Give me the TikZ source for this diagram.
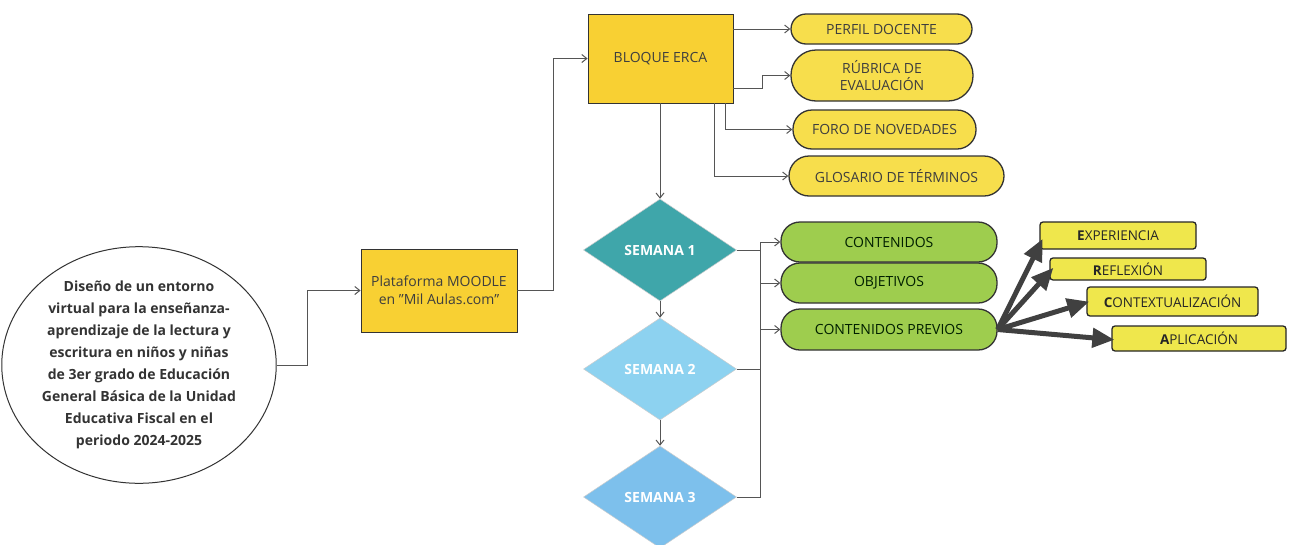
\documentclass[tikz,border=0pt]{standalone}
\usepackage{fontspec}
\setmainfont{Open Sans}
\usetikzlibrary{shapes.geometric,arrows.meta,calc}
\definecolor{gold}{HTML}{F8D033}
\definecolor{pillY}{HTML}{F7DE4C}
\definecolor{pillG}{HTML}{9ECD4E}
\definecolor{boxY}{HTML}{EFE74C}
\definecolor{teal}{HTML}{3FA6AA}
\definecolor{sky}{HTML}{8DD2F0}
\definecolor{sky2}{HTML}{7DC0EC}
\definecolor{lne}{HTML}{555555}
\definecolor{txt}{HTML}{3E3E3E}
\tikzset{
  arr/.style={draw=lne, line width=1pt, -{Straight Barb[length=5pt,width=8pt]}},
  ln/.style={draw=lne, line width=1pt},
  fat/.style={draw=black!75, line width=5pt, -{Triangle[length=22pt,width=19pt]}, shorten >=-3pt},
  sqbox/.style={draw=black!80, line width=0.9pt, fill=gold, text=txt, font=\fontsize{14}{18}\selectfont, align=center},
  pillyellow/.style={draw=black!80, line width=1.3pt, fill=pillY, text=txt, font=\fontsize{14}{17}\selectfont, align=center, inner sep=0pt},
  pillgreen/.style={draw=black!80, line width=1.3pt, fill=pillG, text=black!70!green!40!black, font=\fontsize{14}{17}\selectfont, align=center, inner sep=0pt, minimum width=216pt, rounded corners=19pt},
  sbox/.style={draw=black!85, line width=1.3pt, fill=boxY, text=black!85, font=\fontsize{13.5}{15}\selectfont, rounded corners=3pt, inner sep=0pt},
  semana/.style={diamond, draw=black!20, line width=0.5pt, text=white, font=\bfseries\fontsize{14}{16}\selectfont, minimum width=153pt, minimum height=102pt, inner sep=0pt, aspect=1.5},
  bigcirc/.style={ellipse, draw=black!80, line width=1pt, fill=white, minimum width=228pt, minimum height=236pt, inner sep=0pt, align=center, font=\bfseries\fontsize{14}{21.9}\selectfont, text=black!80}
}
\begin{document}
\begin{tikzpicture}[x=1pt,y=-1pt]
\useasboundingbox[fill=white] (0,0) rectangle (1297,544);
% main nodes
\node[bigcirc] (c) at (139,365) {Diseño de un entorno\\virtual para la enseñanza-\\aprendizaje de la lectura y\\escritura en niños y niñas\\de 3er grado de Educación\\General Básica de la Unidad\\Educativa Fiscal en el\\periodo 2024-2025};
\node[sqbox, minimum width=156pt, minimum height=83pt] (plat) at (439,290.5) {Plataforma MOODLE\\en "Mil Aulas.com"};
\node[sqbox, minimum width=145pt, minimum height=89pt] (erca) at (660.5,58.5) {BLOQUE ERCA};
% yellow pills
\node[pillyellow, minimum width=181pt, minimum height=30pt, rounded corners=15pt] (perf) at (881.5,29) {PERFIL DOCENTE};
\node[pillyellow, minimum width=182pt, minimum height=51pt, rounded corners=25pt] (rub) at (882,75.5) {RÚBRICA DE\\EVALUACIÓN};
\node[pillyellow, minimum width=183pt, minimum height=39pt, rounded corners=19pt] (foro) at (884.5,129.5) {FORO DE NOVEDADES};
\node[pillyellow, minimum width=215pt, minimum height=40pt, rounded corners=20pt] (glos) at (896.5,176) {GLOSARIO DE TÉRMINOS};
% diamonds
\node[semana, fill=teal] (s1) at (660,250) {SEMANA 1};
\node[semana, fill=sky] (s2) at (660,369) {SEMANA 2};
\node[semana, fill=sky2] (s3) at (660,497) {SEMANA 3};
% green pills
\node[pillgreen, minimum height=40pt] (cont) at (889,242) {CONTENIDOS};
\node[pillgreen, minimum height=40pt] (obj) at (889,283) {OBJETIVOS};
\node[pillgreen, minimum height=41pt] (prev) at (889,329.5) {CONTENIDOS PREVIOS};
% right boxes
\node[sbox, minimum width=156pt, minimum height=27pt] (exp) at (1118,235.5) {\textbf{E}XPERIENCIA};
\node[sbox, minimum width=156pt, minimum height=22pt] (ref) at (1128,269) {\textbf{R}EFLEXIÓN};
\node[sbox, minimum width=171pt, minimum height=29pt] (ctx) at (1172.5,301.5) {\textbf{C}ONTEXTUALIZACIÓN};
\node[sbox, minimum width=174pt, minimum height=25pt] (apl) at (1199,338.5) {\textbf{A}PLICACIÓN};
% connectors
\draw[arr] (c.east) -- ++(31,0) |- (plat.west);
\draw[arr] (plat.east) -- ++(36,0) |- (erca.west);
\draw[arr] (erca.east |- perf.west) -- (perf.west);
\draw[arr] ($(erca.east)+(0,30)$) -- ++(29,0) |- (rub.west);
\draw[arr] ($(erca.south east)+(-8,0)$) |- (foro.west);
\draw[arr] ($(erca.south east)+(-19,0)$) |- (glos.west);
\draw[arr] (erca.south -| s1.north) -- (s1.north);
\draw[arr] (s1.south) -- (s2.north);
\draw[arr] (s2.south) -- (s3.north);
\coordinate (bt) at (760,242);
\draw[ln] (s3.east) -| (bt);
\draw[ln] (s1.east) -- (s1.east -| bt);
\draw[ln] (s2.east) -- (s2.east -| bt);
\draw[arr] (bt) -- (cont.west);
\draw[arr] (obj.west -| bt) -- (obj.west);
\draw[arr] (prev.west -| bt) -- (prev.west);
% thick arrows
\draw[fat] (prev.east) -- ($(exp.west)+(2,6)$);
\draw[fat] (prev.east) -- ($(ref.west)+(2,1)$);
\draw[fat] (prev.east) -- ($(ctx.west)+(0,1)$);
\draw[fat] (prev.east) -- ($(apl.west)+(0,1)$);
\end{tikzpicture}
\end{document}
